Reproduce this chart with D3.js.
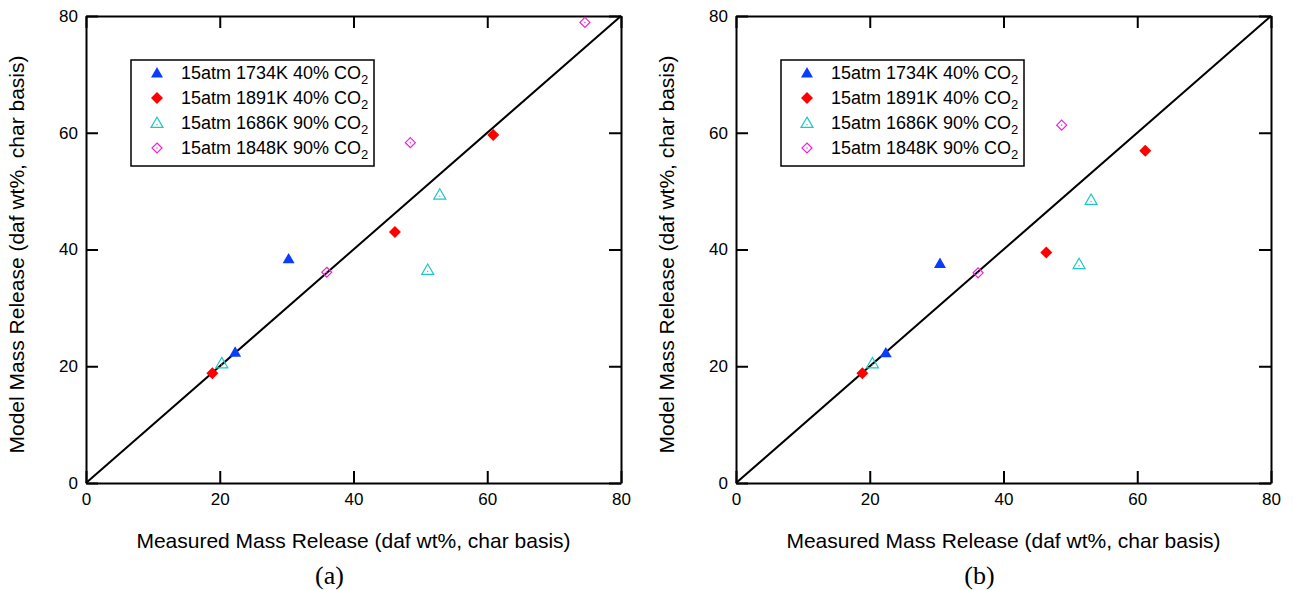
<!DOCTYPE html>
<html>
<head>
<meta charset="utf-8">
<script src="https://cdn.jsdelivr.net/npm/d3@7"></script>
<style>
  body { margin: 0; background: #fff; }
  svg text { font-family: "Liberation Sans", Arial, sans-serif; fill: #000; }
</style>
</head>
<body>
<svg id="chart" width="1293" height="590"></svg>
<script>
// series labels (legend)
var seriesNames = ["15atm 1734K 40% CO", "15atm 1891K 40% CO", "15atm 1686K 90% CO", "15atm 1848K 90% CO"];
var axisTicks = [0, 20, 40, 60, 80];
var panelLabels = ["(a)", "(b)"];

// panel (a) values
var measA1734 = [22.3, 30.3];
var modelA1734 = [22.4, 38.4];
var measA1891 = [18.9, 46.2, 60.9];
var modelA1891 = [18.8, 43.0, 59.6];
var measA1686 = [20.3, 51.1, 52.9];
var modelA1686 = [20.5, 36.5, 49.4];
var measA1848 = [36.0, 48.5, 74.6];
var modelA1848 = [36.1, 58.3, 78.9];

// panel (b) values
var measB1734 = [22.4, 30.5];
var modelB1734 = [22.3, 37.6];
var measB1891 = [18.9, 46.4, 61.2];
var modelB1891 = [18.8, 39.5, 56.9];
var measB1686 = [20.4, 51.3, 53.1];
var modelB1686 = [20.5, 37.5, 48.5];
var measB1848 = [36.2, 48.7];
var modelB1848 = [36.0, 61.3];

var colors = ["#0a3cff", "#ff0000", "#1ec8c8", "#f020d8"];
var shapes = ["triF", "diaF", "triO", "diaO"];

var svg = d3.select("#chart");

var marker = function(g, shape, color) {
  var tri = d3.symbol().type(d3.symbolTriangle).size(62)();
  var dia = "M0,-6L6,0L0,6L-6,0Z";
  if (shape == "triF") g.append("path").attr("d", tri).attr("transform", "translate(0,1)").attr("fill", color);
  if (shape == "diaF") g.append("path").attr("d", dia).attr("fill", color);
  if (shape == "triO") {
    g.append("path").attr("d", tri).attr("transform", "translate(0,1)").attr("fill", "none").attr("stroke", color).attr("stroke-width", 1.2);
    g.append("rect").attr("x", -0.6).attr("y", 1).attr("width", 1.2).attr("height", 1.2).attr("fill", color);
  }
  if (shape == "diaO") {
    g.append("path").attr("d", "M0,-5L5,0L0,5L-5,0Z").attr("fill", "none").attr("stroke", color).attr("stroke-width", 1.2);
    g.append("rect").attr("x", -0.6).attr("y", -0.6).attr("width", 1.2).attr("height", 1.2).attr("fill", color);
  }
};

var drawPanel = function(left, right, label, series) {
  var top = 16, bottom = 483;
  var x = d3.scaleLinear().domain([0, 80]).range([left, right]);
  var y = d3.scaleLinear().domain([0, 80]).range([bottom, top]);
  var g = svg.append("g");

  // frame axes, ticks pointing inward
  g.append("g").attr("transform", "translate(0," + bottom + ")")
    .call(d3.axisBottom(x).tickValues(axisTicks).tickSizeInner(-12).tickSizeOuter(0).tickPadding(10))
    .attr("class", "ax");
  g.append("g").attr("transform", "translate(" + left + ",0)")
    .call(d3.axisLeft(y).tickValues(axisTicks).tickSizeInner(-12).tickSizeOuter(0).tickPadding(8))
    .attr("class", "ax");
  g.append("g").attr("transform", "translate(0," + top + ")")
    .call(d3.axisTop(x).tickValues(axisTicks).tickSizeInner(-12).tickSizeOuter(0).tickFormat(""))
    .attr("class", "ax");
  g.append("g").attr("transform", "translate(" + right + ",0)")
    .call(d3.axisRight(y).tickValues(axisTicks).tickSizeInner(-12).tickSizeOuter(0).tickFormat(""))
    .attr("class", "ax");
  g.selectAll(".ax path, .ax line").attr("stroke", "#000").attr("stroke-width", 2);
  g.selectAll(".ax text").style("font-size", "17px").attr("fill", "#222");

  // parity line
  g.append("line").attr("x1", x(0)).attr("y1", y(0)).attr("x2", x(80)).attr("y2", y(80))
    .attr("stroke", "#000").attr("stroke-width", 2);

  // points
  series.forEach(function(s, i) {
    s.meas.forEach(function(v, j) {
      var m = g.append("g").attr("transform", "translate(" + x(v) + "," + y(s.model[j]) + ")");
      marker(m, shapes[i], colors[i]);
    });
  });

  // legend
  var lx = x(0) + 45, ly = 60;
  g.append("rect").attr("x", lx).attr("y", ly).attr("width", 243).attr("height", 106)
    .attr("fill", "#fff").attr("stroke", "#000").attr("stroke-width", 1.5);
  seriesNames.forEach(function(n, i) {
    var ry = ly + 13 + i * 25;
    var m = g.append("g").attr("transform", "translate(" + (lx + 26) + "," + ry + ")");
    marker(m, shapes[i], colors[i]);
    var t = g.append("text").attr("x", lx + 50).attr("y", ry + 6).style("font-size", "18px").text(n);
    t.append("tspan").attr("dy", 5).style("font-size", "13px").text("2");
  });

  // axis titles
  var cx = (left + right) / 2;
  g.append("text").attr("x", cx).attr("y", 548).attr("text-anchor", "middle")
    .style("font-size", "21px").text("Measured Mass Release (daf wt%, char basis)");
  g.append("text").attr("transform", "translate(" + (left - 62) + "," + ((top + bottom) / 2 + 5) + ") rotate(-90)")
    .attr("text-anchor", "middle").style("font-size", "21px").text("Model Mass Release (daf wt%, char basis)");
  g.append("text").attr("x", cx - 24).attr("y", 584).attr("text-anchor", "middle")
    .style("font-family", "'Liberation Serif', 'Times New Roman', serif").style("font-size", "26px").text(label);
};

drawPanel(86, 621, panelLabels[0], [
  {meas: measA1734, model: modelA1734},
  {meas: measA1891, model: modelA1891},
  {meas: measA1686, model: modelA1686},
  {meas: measA1848, model: modelA1848}
]);
drawPanel(736, 1271, panelLabels[1], [
  {meas: measB1734, model: modelB1734},
  {meas: measB1891, model: modelB1891},
  {meas: measB1686, model: modelB1686},
  {meas: measB1848, model: modelB1848}
]);
</script>
</body>
</html>
